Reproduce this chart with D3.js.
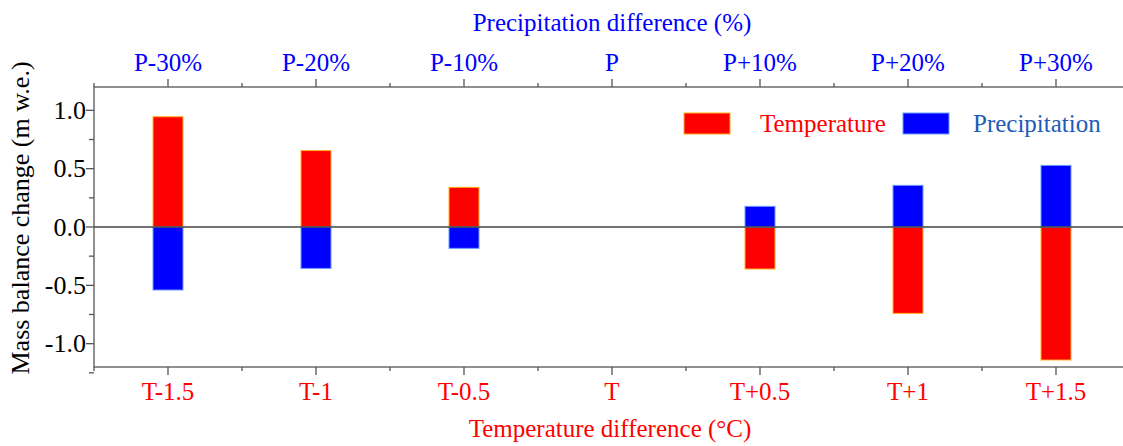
<!DOCTYPE html>
<html><head><meta charset="utf-8">
<script src="https://cdn.jsdelivr.net/npm/d3@7"></script>
<style>body{margin:0;background:#fff}svg{display:block}text{font-family:"Liberation Serif",serif}</style>
</head><body>
<svg id="c" width="1123" height="446"></svg>
<script>
const tempLabels = ["T-1.5","T-1","T-0.5","T","T+0.5","T+1","T+1.5"];
const precLabels = ["P-30%","P-20%","P-10%","P","P+10%","P+20%","P+30%"];
const tempValues = [0.945, 0.655, 0.34, 0, -0.36, -0.74, -1.14];
const precValues = [-0.54, -0.355, -0.183, 0, 0.177, 0.357, 0.528];
const yTicks = [-1.0, -0.5, 0.0, 0.5, 1.0];
const yTickLabels = ["-1.0","-0.5","0.0","0.5","1.0"];
const yMinorTicks = [-1.25,-0.75,-0.25,0.25,0.75];
const idx = d3.range(tempLabels.length);

const svg = d3.select("#c");
const FONT = "Liberation Serif";
const L = 94, R = 1130, T = 87, B = 367;
const x = d3.scalePoint().domain(idx).range([L, R]).padding(0.5);
const y = d3.scaleLinear().domain([-1.2, 1.2]).range([B, T]);
const step = x.step();
const bw = 30;
const axisCol = "#555";

// frame
svg.append("rect").attr("x", L).attr("y", T).attr("width", R - L).attr("height", B - T)
  .attr("fill", "none").attr("stroke", axisCol).attr("stroke-width", 1.3);

// bars
function bars(vals, fill, stroke) {
  svg.append("g").selectAll("rect").data(idx.filter(i => vals[i] !== 0)).join("rect")
    .attr("x", i => x(i) - bw / 2).attr("width", bw)
    .attr("y", i => y(Math.max(0, vals[i])))
    .attr("height", i => Math.abs(y(vals[i]) - y(0)))
    .attr("fill", fill).attr("stroke", stroke).attr("stroke-width", 1);
}
bars(tempValues, "#ff0000", "#ffb020");
bars(precValues, "#0000ff", "#6a9cff");
// zero line
svg.append("line").attr("x1", L).attr("x2", R).attr("y1", y(0)).attr("y2", y(0))
  .attr("stroke", "#444").attr("stroke-width", 1.3);

// x ticks
const minorX = d3.range(idx.length + 1).map(i => L + i * step);
const gt = svg.append("g");
idx.forEach(i => {
  gt.append("line").attr("x1", x(i)).attr("x2", x(i)).attr("y1", B).attr("y2", B + 8).attr("stroke", axisCol).attr("stroke-width", 1.3);
  gt.append("line").attr("x1", x(i)).attr("x2", x(i)).attr("y1", T).attr("y2", T - 8).attr("stroke", axisCol).attr("stroke-width", 1.3);
});
minorX.forEach(v => {
  gt.append("line").attr("x1", v).attr("x2", v).attr("y1", B).attr("y2", B + 4).attr("stroke", axisCol).attr("stroke-width", 1.3);
  gt.append("line").attr("x1", v).attr("x2", v).attr("y1", T).attr("y2", T - 4).attr("stroke", axisCol).attr("stroke-width", 1.3);
});
// y ticks
yTicks.forEach((v, k) => {
  gt.append("line").attr("x1", L).attr("x2", L - 8).attr("y1", y(v)).attr("y2", y(v)).attr("stroke", axisCol).attr("stroke-width", 1.3);
  gt.append("text").attr("x", L - 8).attr("y", y(v) + 8.5).attr("text-anchor", "end")
    .attr("font-family", FONT).attr("font-size", 26).attr("fill", "#000").text(yTickLabels[k]);
});
yMinorTicks.forEach(v => {
  gt.append("line").attr("x1", L).attr("x2", L - 5).attr("y1", y(v)).attr("y2", y(v)).attr("stroke", axisCol).attr("stroke-width", 1.3);
});

// tick labels
idx.forEach(i => {
  svg.append("text").attr("x", x(i)).attr("y", 400).attr("text-anchor", "middle")
    .attr("font-family", FONT).attr("font-size", 25).attr("fill", "#ff0000").text(tempLabels[i]);
  svg.append("text").attr("x", x(i)).attr("y", 71).attr("text-anchor", "middle")
    .attr("font-family", FONT).attr("font-size", 25).attr("fill", "#0000ff").text(precLabels[i]);
});

// titles
svg.append("text").attr("x", 610).attr("y", 437).attr("text-anchor", "middle")
  .attr("font-family", FONT).attr("font-size", 25).attr("fill", "#ff0000").text("Temperature difference (°C)");
svg.append("text").attr("x", 612).attr("y", 31).attr("text-anchor", "middle")
  .attr("font-family", FONT).attr("font-size", 25).attr("fill", "#0000ff").text("Precipitation difference (%)");
svg.append("text").attr("transform", "translate(29,218) rotate(-90)").attr("text-anchor", "middle")
  .attr("font-family", FONT).attr("font-size", 26).attr("fill", "#000").text("Mass balance change (m w.e.)");

// legend
const lg = svg.append("g");
lg.append("rect").attr("x", 684).attr("y", 113).attr("width", 46).attr("height", 21)
  .attr("fill", "#ff0000").attr("stroke", "#ffb020").attr("stroke-width", 1);
lg.append("text").attr("x", 760).attr("y", 132).attr("font-family", FONT).attr("font-size", 25).attr("fill", "#ff0000").text("Temperature");
lg.append("rect").attr("x", 903).attr("y", 113).attr("width", 46).attr("height", 21)
  .attr("fill", "#0000ff").attr("stroke", "#6a9cff").attr("stroke-width", 1);
lg.append("text").attr("x", 973).attr("y", 132).attr("font-family", FONT).attr("font-size", 25).attr("fill", "#1e5bb8").text("Precipitation");
</script>
</body></html>
